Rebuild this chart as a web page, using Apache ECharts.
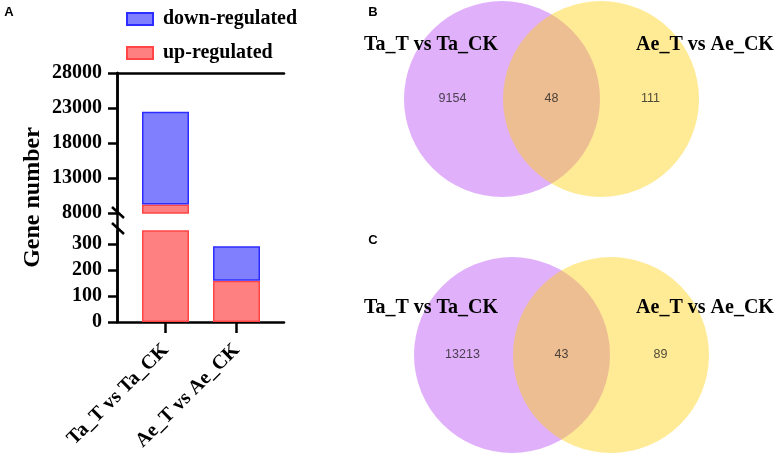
<!DOCTYPE html>
<html><head><meta charset="utf-8">
<script src="https://cdn.jsdelivr.net/npm/echarts@6/dist/echarts.min.js"></script>
<style>html,body{margin:0;padding:0;background:#fff}#c{width:777px;height:456px}</style>
</head><body><div id="c"></div>
<script>
// ---- data ----
const categories = ['Ta_T vs Ta_CK', 'Ae_T vs Ae_CK'];
const upRegulated = [9202, 159];
const downRegulated = [13256, 132];
const upperTicks = [8000, 13000, 18000, 23000, 28000];
const lowerTicks = [0, 100, 200, 300];
const vennSets = ['Ta_T vs Ta_CK', 'Ae_T vs Ae_CK'];
const vennCountsB = [9154, 48, 111];
const vennCountsC = [13213, 43, 89];
const vennCircleX = [0, 1];
const vennRegionX = [-0.5, 0.5, 1.5];

const SERIF = '"Liberation Serif","Times New Roman",serif';
const SANS = '"Liberation Sans",Arial,sans-serif';
const AX = { color: '#000', width: 2.5 };
const upStyle = { color: '#FF8080', borderColor: '#FF4545', borderWidth: 1.5 };
const downStyle = { color: '#8080FF', borderColor: '#2D2DFF', borderWidth: 1.5 };
const tickLabel = { fontFamily: SERIF, fontWeight: 'bold', fontSize: 20, color: '#000', margin: 15, formatter: v => String(v) };

function valueY(grid, min, max, ticks) {
  return {
    type: 'value', gridIndex: grid, min: min, max: max, offset: 13,
    axisLine: { show: true, lineStyle: AX },
    axisTick: { show: true, length: 9, lineStyle: AX, customValues: ticks },
    axisLabel: Object.assign({ customValues: ticks }, tickLabel),
    splitLine: { show: false }
  };
}
function hiddenAxis(grid, min, max) {
  return { type: 'value', gridIndex: grid, min: min, max: max, show: false };
}
function frameX(pos) {
  return { type: 'value', gridIndex: 2, position: pos, min: 0, max: 1,
    axisLine: { show: true, onZero: false, lineStyle: AX }, axisTick: { show: false },
    axisLabel: { show: false }, splitLine: { show: false } };
}
function vennSeries(xi, counts) {
  return [
    { type: 'scatter', xAxisIndex: xi, yAxisIndex: xi, silent: true, symbolSize: 196, z: 1,
      data: [
        { value: [vennCircleX[0], 0], itemStyle: { color: '#E1B0FA', opacity: 1 } },
        { value: [vennCircleX[1], 0], itemStyle: { color: 'rgba(255,207,16,0.44)', opacity: 1 } }
      ] },
    { type: 'scatter', xAxisIndex: xi, yAxisIndex: xi, silent: true, symbolSize: 1, z: 3,
      itemStyle: { color: 'transparent' },
      label: { show: true, position: 'inside', formatter: p => String(p.value[2]),
        fontFamily: SANS, fontSize: 12.5, color: '#222' },
      data: counts.map((c, i) => [vennRegionX[i], 0, c]) }
  ];
}
function txt(t, x, y, font) {
  return { type: 'text', x: x, y: y, z: 100, silent: true,
    style: { text: t, font: font, fill: '#000', textAlign: 'center', textVerticalAlign: 'middle' } };
}

const chart = echarts.init(document.getElementById('c'));
chart.setOption({
  animation: false,
  backgroundColor: '#fff',
  legend: {
    orient: 'vertical', left: 121, top: 4, itemWidth: 26, itemHeight: 12, itemGap: 14,
    icon: 'rect', data: ['down-regulated', 'up-regulated'],
    textStyle: { fontFamily: SERIF, fontWeight: 'bold', fontSize: 20, color: '#000', padding: [0, 0, 0, 5] }
  },
  grid: [
    { left: 130, top: 231, width: 142, height: 91 },
    { left: 130, top: 73, width: 142, height: 140 },
    { left: 117, top: 73, width: 167, height: 249 },
    { left: 403, top: 0, width: 297, height: 198 },
    { left: 413, top: 256, width: 297, height: 198 }
  ],
  xAxis: [
    { type: 'category', gridIndex: 0, data: categories,
      axisLine: { show: false },
      axisTick: { show: true, alignWithLabel: true, length: 11, lineStyle: AX },
      axisLabel: { interval: 0, rotate: 45, margin: 25, fontFamily: SERIF, fontWeight: 'bold', fontSize: 20, color: '#000' } },
    { type: 'category', gridIndex: 1, data: categories, show: false },
    frameX('bottom'),
    frameX('top'),
    hiddenAxis(3, -1, 2),
    hiddenAxis(4, -1, 2)
  ],
  yAxis: [
    valueY(0, 0, 350, lowerTicks),
    valueY(1, 8000, 28000, upperTicks),
    { type: 'value', gridIndex: 2, position: 'right', min: 0, max: 1,
      axisLine: { show: true, lineStyle: AX }, axisTick: { show: false },
      axisLabel: { show: false }, splitLine: { show: false } },
    { type: 'value', gridIndex: 2, position: 'left', min: 0, max: 1,
      axisLine: { show: false }, axisTick: { show: false }, axisLabel: { show: false }, splitLine: { show: false },
      name: 'Gene number', nameLocation: 'middle', nameGap: 72,
      nameTextStyle: { fontFamily: SERIF, fontWeight: 'bold', fontSize: 24, color: '#000' } },
    hiddenAxis(3, -1, 1),
    hiddenAxis(4, -1, 1)
  ],
  series: [
    { type: 'bar', name: 'up-regulated', xAxisIndex: 0, yAxisIndex: 0, stack: 'lo', barWidth: 47, data: upRegulated, itemStyle: upStyle },
    { type: 'bar', name: 'down-regulated', xAxisIndex: 0, yAxisIndex: 0, stack: 'lo', barWidth: 47, data: downRegulated, itemStyle: downStyle },
    { type: 'bar', name: 'up-regulated', xAxisIndex: 1, yAxisIndex: 1, stack: 'hi', barWidth: 47, data: upRegulated, itemStyle: upStyle },
    { type: 'bar', name: 'down-regulated', xAxisIndex: 1, yAxisIndex: 1, stack: 'hi', barWidth: 47, data: downRegulated, itemStyle: downStyle }
  ].concat(vennSeries(4, vennCountsB), vennSeries(5, vennCountsC)),
  graphic: [
    { type: 'line', z: 100, silent: true, shape: { x1: 112, y1: 207, x2: 124, y2: 218 }, style: { stroke: '#000', lineWidth: 2.5 } },
    { type: 'line', z: 100, silent: true, shape: { x1: 112, y1: 223, x2: 124, y2: 234 }, style: { stroke: '#000', lineWidth: 2.5 } },
    txt('A', 9, 12, 'bold 13px ' + SANS),
    txt('B', 373, 12, 'bold 13px ' + SANS),
    txt('C', 373, 240, 'bold 13px ' + SANS),
    txt(vennSets[0], 431, 45, 'bold 20px ' + SERIF),
    txt(vennSets[1], 705, 45, 'bold 20px ' + SERIF),
    txt(vennSets[0], 431, 308, 'bold 20px ' + SERIF),
    txt(vennSets[1], 705, 308, 'bold 20px ' + SERIF)
  ]
});
</script></body></html>
